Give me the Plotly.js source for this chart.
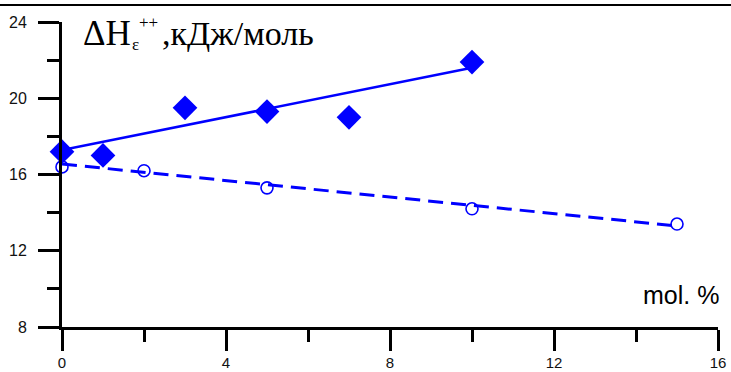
<!DOCTYPE html>
<html><head><meta charset="utf-8">
<script src="https://cdn.plot.ly/plotly-3.0.1.min.js"></script>
<style>html,body{margin:0;padding:0;background:#fff}#c{width:731px;height:372px}</style>
</head><body><div id="c"></div>
<script>
// Data
const solidX = [0, 1, 3, 5, 7, 10];
const solidY = [17.2, 17.0, 19.5, 19.3, 19.0, 21.9];
const solidFitX = [0, 10];
const solidFitY = [17.28, 21.6];

const openX = [0, 2, 5, 10, 15];
const openY = [16.4, 16.2, 15.3, 14.2, 13.4];
const openFitX = [0, 15];
const openFitY = [16.55, 13.3];

const xTicks = [0, 4, 8, 12, 16];
const yTicks = [8, 12, 16, 20, 24];

const blue = '#0000FF';
const traces = [
  {x: solidFitX, y: solidFitY, mode: 'lines', line: {color: blue, width: 2.5}, cliponaxis: false},
  {x: openFitX, y: openFitY, mode: 'lines', line: {color: blue, width: 3, dash: '15px,8px'}, cliponaxis: false},
  {x: solidX, y: solidY, mode: 'markers', marker: {symbol: 'diamond', size: 19, color: blue}, cliponaxis: false},
  {x: openX, y: openY, mode: 'markers', marker: {symbol: 'circle-open', size: 12, color: blue, line: {width: 1.6, color: blue}}, cliponaxis: false}
];

const axisCommon = {
  showgrid: false, zeroline: false, showline: true, linecolor: '#000', linewidth: 3,
  ticks: 'outside', ticklen: 21, tickwidth: 3, tickcolor: '#000',
  tickfont: {family: 'Liberation Sans, Arial, sans-serif', size: 16, color: '#111'}
};

const px = v => (v - 62) / 656;
const py = v => (327 - v) / 305;
const serif = 'Liberation Serif, Times New Roman, serif';

const layout = {
  width: 731, height: 372,
  margin: {l: 62, r: 13, t: 22, b: 45},
  paper_bgcolor: '#fff', plot_bgcolor: '#fff',
  showlegend: false,
  xaxis: Object.assign({}, axisCommon, {
    range: [0, 16], tickvals: xTicks, ticktext: xTicks.map(String),
    tickfont: {family: 'Liberation Sans, Arial, sans-serif', size: 15, color: '#111'},
    minor: {dtick: 2, tick0: 0, ticks: 'outside', ticklen: 12, tickwidth: 3, tickcolor: '#000'},
    ticklabelstandoff: -1
  }),
  yaxis: Object.assign({}, axisCommon, {
    range: [8, 24], tickvals: yTicks, ticktext: yTicks.map(String),
    minor: {dtick: 2, tick0: 0, ticks: 'outside', ticklen: 12, tickwidth: 3, tickcolor: '#000'},
    ticklabelstandoff: 8
  }),
  shapes: [
    {type: 'line', xref: 'paper', yref: 'paper', x0: -0.1, x1: 1.1, y0: py(5), y1: py(5),
     line: {color: '#000', width: 2}}
  ],
  annotations: [
    {xref: 'paper', yref: 'paper', x: px(81), y: py(34), xanchor: 'left', yanchor: 'middle', showarrow: false,
     text: 'ΔH', font: {family: serif, size: 35, color: '#000'}},
    {xref: 'paper', yref: 'paper', x: px(130), y: py(45), xanchor: 'left', yanchor: 'middle', showarrow: false,
     text: 'ε', font: {family: serif, size: 17, color: '#000'}},
    {xref: 'paper', yref: 'paper', x: px(137), y: py(23), xanchor: 'left', yanchor: 'middle', showarrow: false,
     text: '++', font: {family: serif, size: 17, color: '#000'}},
    {xref: 'paper', yref: 'paper', x: px(160), y: py(34), xanchor: 'left', yanchor: 'middle', showarrow: false,
     text: ',кДж/моль', font: {family: serif, size: 34, color: '#000'}},
    {xref: 'paper', yref: 'paper', x: px(721), y: py(295), xanchor: 'right', yanchor: 'middle', showarrow: false,
     text: 'mol. %', font: {family: 'Liberation Sans, Arial, sans-serif', size: 25, color: '#000'}}
  ]
};

Plotly.newPlot('c', traces, layout, {staticPlot: true, displayModeBar: false});
</script></body></html>
